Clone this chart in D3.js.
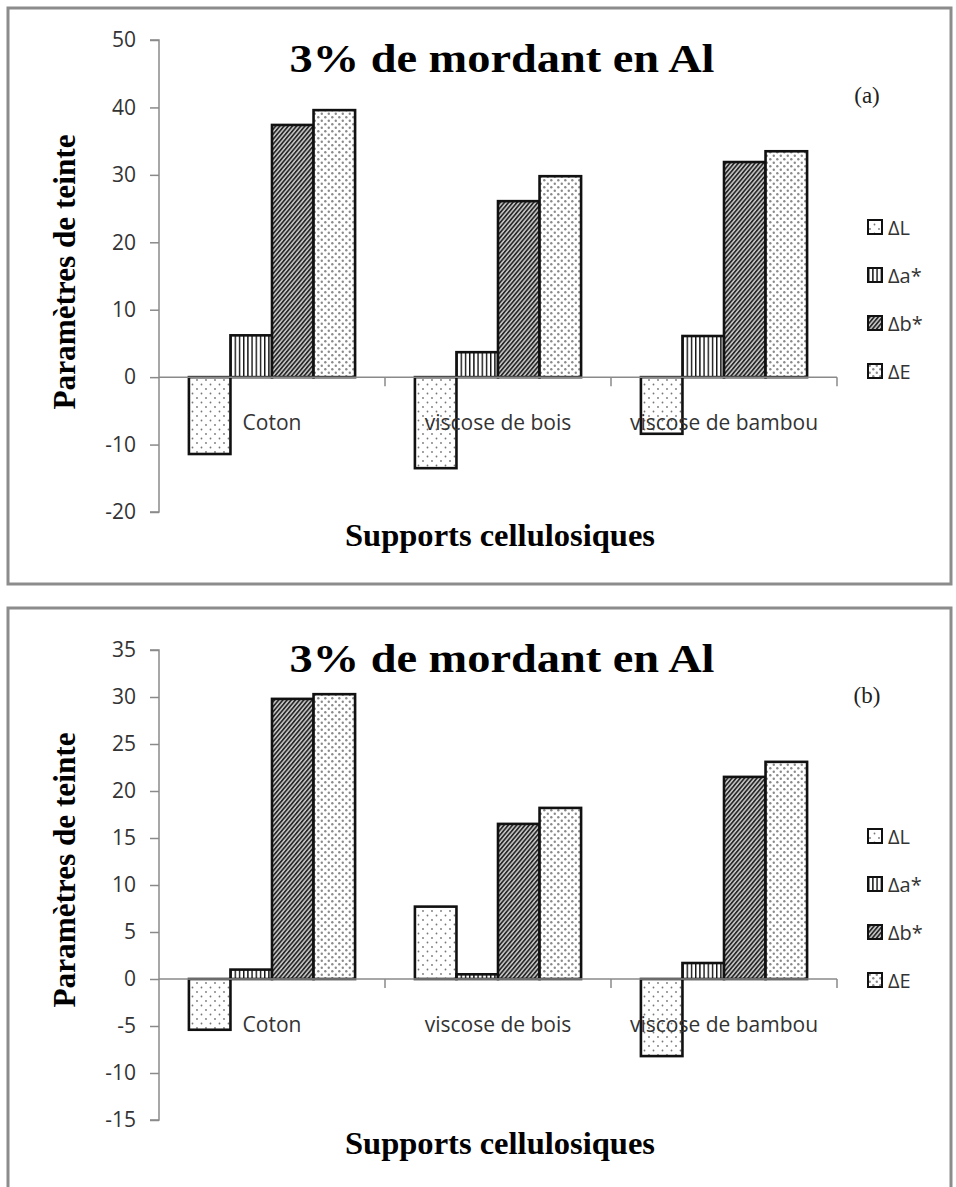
<!DOCTYPE html>
<html><head><meta charset="utf-8">
<script src="https://cdn.jsdelivr.net/npm/d3@7"></script>
<style>body{margin:0;background:#fff}svg{display:block}</style>
</head><body>
<svg id="chart" width="956" height="1187"></svg>
<script>
const categories = ["Coton", "viscose de bois", "viscose de bambou"];
const series = ["ΔL", "Δa*", "Δb*", "ΔE"];
const valuesA = [
  [-11.4, 6.2, 37.4, 39.6],
  [-13.5, 3.7, 26.1, 29.8],
  [-8.4, 6.1, 31.9, 33.5]
];
const valuesB = [
  [-5.4, 1.0, 29.8, 30.3],
  [7.7, 0.5, 16.5, 18.2],
  [-8.2, 1.7, 21.5, 23.1]
];
const ticksA = [-20, -10, 0, 10, 20, 30, 40, 50];
const ticksB = [-15, -10, -5, 0, 5, 10, 15, 20, 25, 30, 35];
const titleText = "3% de mordant en Al";
const yTitle = "Paramètres de teinte";
const xTitle = "Supports cellulosiques";

const sans = "'Open Sans', 'Noto Sans', sans-serif";
const serif = "'Liberation Serif', 'Times New Roman', serif";
const svg = d3.select("#chart");
const defs = svg.append("defs");
(function(){
  let p = defs.append("pattern").attr("id","patL").attr("patternUnits","userSpaceOnUse").attr("width",9).attr("height",9);
  p.append("rect").attr("width",9).attr("height",9).attr("fill","#fff");
  p.append("circle").attr("cx",2).attr("cy",2).attr("r",0.9).attr("fill","#777");
  p.append("circle").attr("cx",6.5).attr("cy",6.5).attr("r",0.9).attr("fill","#777");
  p = defs.append("pattern").attr("id","patA").attr("patternUnits","userSpaceOnUse").attr("width",4.2).attr("height",4);
  p.append("rect").attr("width",4.2).attr("height",4).attr("fill","#fff");
  p.append("rect").attr("x",0).attr("width",1.4).attr("height",4).attr("fill","#111");
  p = defs.append("pattern").attr("id","patB").attr("patternUnits","userSpaceOnUse").attr("width",3.2).attr("height",4).attr("patternTransform","rotate(40)");
  p.append("rect").attr("width",3.2).attr("height",4).attr("fill","#c8c8c8");
  p.append("rect").attr("x",0).attr("width",1.7).attr("height",4).attr("fill","#2a2a2a");
  p = defs.append("pattern").attr("id","patE").attr("patternUnits","userSpaceOnUse").attr("width",7).attr("height",7);
  p.append("rect").attr("width",7).attr("height",7).attr("fill","#fff");
  p.append("circle").attr("cx",1.8).attr("cy",1.8).attr("r",1.2).attr("fill","#8a8a8a");
  p.append("circle").attr("cx",5.3).attr("cy",5.3).attr("r",1.2).attr("fill","#8a8a8a");
})();
const fills = {"ΔL":"url(#patL)","Δa*":"url(#patA)","Δb*":"url(#patB)","ΔE":"url(#patE)"};

function drawChart(cfg){
  const g = svg.append("g");
  g.append("rect").attr("x",8).attr("y",cfg.top).attr("width",943).attr("height",cfg.frameH)
    .attr("fill","none").attr("stroke","#8c8c8c").attr("stroke-width",3);
  const y = d3.scaleLinear().domain(cfg.domain).range(cfg.yRange);
  const x0 = d3.scaleBand().domain(categories).range([159, 837]).padding(0);
  const x1 = d3.scaleBand().domain(series).range([0, x0.bandwidth()]).paddingInner(0).paddingOuter(0.72);
  const ya = g.append("g").attr("transform","translate(159,0)")
    .call(d3.axisLeft(y).tickValues(cfg.ticks).tickSize(9).tickPadding(14).tickFormat(d => String(d)));
  ya.select(".domain").attr("stroke","#8a8a8a").attr("stroke-width",1.5).attr("d",`M-9,${y(cfg.domain[1])}H0V${y(cfg.domain[0])}H-9`);
  ya.selectAll(".tick line").attr("stroke","#8a8a8a").attr("stroke-width",1.5);
  ya.selectAll(".tick text").attr("font-family",sans).attr("font-size",21).attr("fill","#333");
  const grp = g.selectAll(".grp").data(categories).enter().append("g")
    .attr("transform", d => `translate(${x0(d)},0)`);
  grp.selectAll("rect").data((d,i) => series.map((s,j) => ({s, v: cfg.values[i][j]}))).enter().append("rect")
    .attr("x", d => x1(d.s)).attr("width", x1.bandwidth())
    .attr("y", d => y(Math.max(0,d.v))).attr("height", d => Math.abs(y(d.v)-y(0)))
    .attr("fill", d => fills[d.s]).attr("stroke","#111").attr("stroke-width",2.6);
  const xa = g.append("g").attr("transform",`translate(0,${y(0)})`);
  xa.append("line").attr("x1",159).attr("x2",837).attr("stroke","#8a8a8a").attr("stroke-width",1.5);
  const bounds = categories.map(c => x0(c)).concat([837]);
  xa.selectAll(".bt").data(bounds.slice(1)).enter().append("line")
    .attr("x1",d=>d).attr("x2",d=>d).attr("y1",0).attr("y2",9).attr("stroke","#8a8a8a").attr("stroke-width",1.5);
  xa.selectAll(".cl").data(categories).enter().append("text")
    .attr("x", d => x0(d)+x0.bandwidth()/2).attr("y",53)
    .attr("text-anchor","middle").attr("font-family",sans).attr("font-size",21).attr("fill","#333")
    .text(d=>d);
  g.append("text").attr("x",502).attr("y",cfg.top+64).attr("text-anchor","middle")
    .attr("font-family",serif).attr("font-weight","bold").attr("font-size",40)
    .attr("textLength",425).attr("lengthAdjust","spacingAndGlyphs").text(titleText);
  g.append("text").attr("x",867).attr("y",cfg.top+95).attr("text-anchor","middle")
    .attr("font-family",serif).attr("font-size",23).attr("fill","#222").text(cfg.tag);
  g.append("text").attr("transform",`translate(75,${cfg.yTitleC}) rotate(-90)`).attr("text-anchor","middle")
    .attr("font-family",serif).attr("font-weight","bold").attr("font-size",32)
    .attr("textLength",275).attr("lengthAdjust","spacingAndGlyphs").text(yTitle);
  g.append("text").attr("x",500).attr("y",cfg.xTitleY).attr("text-anchor","middle")
    .attr("font-family",serif).attr("font-weight","bold").attr("font-size",32)
    .attr("textLength",310).attr("lengthAdjust","spacingAndGlyphs").text(xTitle);
  const lg = g.selectAll(".lg").data(series).enter().append("g")
    .attr("transform",(d,i)=>`translate(868,${cfg.legY + i*cfg.legStep})`);
  lg.append("rect").attr("x",0).attr("y",-7).attr("width",14).attr("height",14)
    .attr("fill",d=>fills[d]).attr("stroke","#111").attr("stroke-width",2);
  lg.append("text").attr("x",20).attr("y",8).attr("font-family",sans)
    .attr("font-size",20).attr("fill","#333").text(d=>d);
}

drawChart({top:8, frameH:576, domain:[-20,50], yRange:[512,40], ticks:ticksA, values:valuesA,
  tag:"(a)", yTitleC:272, xTitleY:546, legY:227, legStep:48});
drawChart({top:608, frameH:600, domain:[-15,35], yRange:[1120,650], ticks:ticksB, values:valuesB,
  tag:"(b)", yTitleC:870, xTitleY:1154, legY:836, legStep:48});
</script>
</body></html>
